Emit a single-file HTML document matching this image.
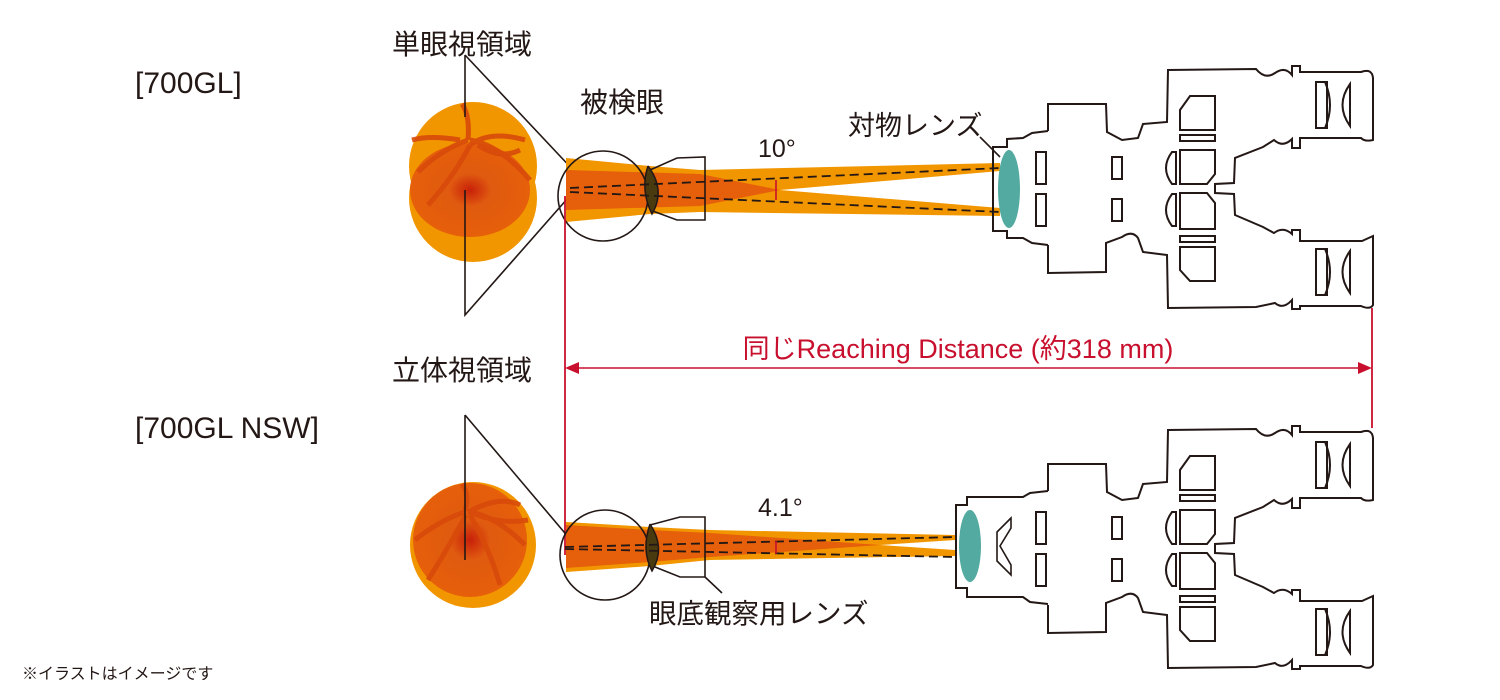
<!DOCTYPE html>
<html><head><meta charset="utf-8"><style>
body{margin:0;background:#fff}
svg{display:block}
text{font-family:"Liberation Sans","Noto Sans CJK JP",sans-serif;fill:#231815}
</style></head><body>
<svg width="1500" height="700" viewBox="0 0 1500 700" xmlns="http://www.w3.org/2000/svg">
<defs>
<radialGradient id="rg" cx="0.5" cy="0.5" r="0.5">
<stop offset="0" stop-color="#c8200a"/><stop offset="0.35" stop-color="#e05a10"/><stop offset="1" stop-color="#e65f0a"/>
</radialGradient>
<g id="body" fill="none" stroke="#231815" stroke-width="2">
<path d="M1048,131 L1048,104 L1106,104 L1107,132 L1122,140 L1138,138 L1143,124 L1167,122 L1168,70 L1256,69 Q1265,80 1275,73 Q1285,66 1292,75 L1292,66 L1300,66 L1300,72 L1361,72 Q1372,68 1373,78 L1373,140 Q1365,142 1361,138 L1300,138 L1300,148 L1292,148 L1292,139 Q1283,148 1274,140 L1263,147 L1235,158 L1234,183 L1215,184 L1215,193 L1234,194 L1235,215 L1263,227 L1274,233 Q1283,226 1292,234 L1292,230 L1300,230 L1300,241 L1362,241 L1373,236 L1373,305 Q1370,310 1361,306 L1300,306 L1300,309 L1292,309 L1292,300 Q1283,310 1275,303 L1256,307 L1168,308 L1167,255 L1143,252 L1138,238 Q1132,230 1122,237 L1106,243 L1106,272 L1048,273 L1048,245"/>
<path d="M1180,110 L1190,96 L1215,96 L1215,130 L1180,130 Z"/><rect x="1180" y="135" width="35" height="6"/>
<path d="M1180,150 L1215,150 L1215,174 L1207,184 L1180,184 Z"/><path d="M1180,193 L1207,193 L1215,203 L1215,229 L1180,229 Z"/>
<rect x="1180" y="236" width="35" height="6"/><path d="M1180,247 L1215,247 L1215,281 L1190,281 L1180,270 Z"/>
<rect x="1316" y="82" width="11" height="46"/><path d="M1325,82 Q1335,105 1325,128"/><path d="M1350,84 Q1335,105 1350,126 Z"/>
<rect x="1316" y="249" width="11" height="46"/><path d="M1325,249 Q1335,272 1325,295"/><path d="M1350,251 Q1335,272 1350,293 Z"/>
<rect x="1036" y="152" width="10" height="32"/><rect x="1036" y="194" width="10" height="32"/>
<rect x="1112" y="157" width="10" height="22"/><rect x="1112" y="199" width="10" height="22"/>
<path d="M1172,152 Q1160,168 1172,184 L1176,184 L1176,152 Z"/><path d="M1172,194 Q1160,210 1172,226 L1176,226 L1176,194 Z"/>
</g>
</defs>

<!-- TOP -->
<text x="135" y="93" font-size="30">[700GL]</text>
<text x="392" y="54" font-size="28">単眼視領域</text>
<text x="580" y="112" font-size="28">被検眼</text>
<text x="758" y="157" font-size="25">10°</text>
<text x="848" y="135" font-size="27">対物レンズ</text>

<circle cx="473" cy="198" r="64" fill="#f29600"/>
<circle cx="473" cy="166" r="64" fill="#f29600"/>
<ellipse cx="470" cy="190" rx="60" ry="47" fill="url(#rg)"/>
<g stroke="#d84a0a" stroke-width="5" fill="none" opacity="0.9">
<path d="M468,140 Q470,115 462,104"/><path d="M468,140 Q440,150 418,172"/><path d="M470,140 Q500,145 530,180"/><path d="M470,145 Q455,175 428,205"/><path d="M478,145 Q500,160 520,150"/><path d="M470,145 Q490,130 525,140"/><path d="M460,140 Q430,135 412,140"/>
</g>
<path d="M465,55 L465,117 M465,190 L465,315 L575,190 M465,55 L575,172" stroke="#231815" stroke-width="1.6" fill="none"/>

<polygon points="566,158 650,166 700,170 1000,163 1000,171 780,190 1000,208 1000,216 700,212 650,214 566,222" fill="#f29600"/>
<polygon points="566,170 700,174 780,190 700,206 566,210" fill="#e65f0a"/>
<circle cx="603" cy="196" r="45" fill="none" stroke="#231815" stroke-width="1.6"/>
<path d="M650,170 L677,158 L705,157 L705,220 L677,220 L650,210" fill="none" stroke="#231815" stroke-width="1.6"/>
<path d="M648,166 Q640,190 652,214 Q666,190 648,166" fill="#4a3a10" stroke="#231815" stroke-width="1.5"/>
<path d="M570,188 L1000,168 M570,192 L1000,212" stroke="#231815" stroke-width="1.8" stroke-dasharray="9,5"/>
<path d="M776,180 L776,200" stroke="#c8102e" stroke-width="1.6"/>
<path d="M980,137 L1000,157" stroke="#231815" stroke-width="1.6"/>
<path d="M1048,131 L1032,133 L1023,138 L1007,139 L1007,147 L993,147 L993,231 L1007,231 L1007,238 L1023,238 L1032,243 L1048,245" fill="none" stroke="#231815" stroke-width="2"/>
<ellipse cx="1009" cy="189" rx="11" ry="39" fill="#52aaa0"/>
<use href="#body"/>

<!-- distance -->
<path d="M565,196 L565,555 M1372,308 L1372,428" stroke="#c8102e" stroke-width="1.8"/>
<path d="M575,368 L1362,368" stroke="#c8102e" stroke-width="1.5"/>
<polygon points="565,368 579,362 579,374" fill="#c8102e"/>
<polygon points="1372,368 1358,362 1358,374" fill="#c8102e"/>
<text x="958" y="358" font-size="27" text-anchor="middle" style="fill:#c8102e">同じReaching Distance (約318 mm)</text>

<!-- BOTTOM -->
<text x="392" y="380" font-size="28">立体視領域</text>
<text x="135" y="438" font-size="30">[700GL NSW]</text>
<text x="758" y="516" font-size="25">4.1°</text>
<text x="649" y="623" font-size="27.5">眼底観察用レンズ</text>
<text x="22" y="679" font-size="16">※イラストはイメージです</text>

<circle cx="473" cy="545" r="63" fill="#f29600"/>
<circle cx="470" cy="540" r="57" fill="url(#rg)"/>
<g stroke="#d84a0a" stroke-width="5" fill="none" opacity="0.9">
<path d="M465,510 Q470,495 462,484"/><path d="M465,512 Q440,520 415,540"/><path d="M468,512 Q495,515 525,545"/><path d="M466,515 Q450,545 428,580"/><path d="M470,512 Q500,525 528,520"/><path d="M468,512 Q500,495 520,505"/><path d="M470,515 Q490,550 500,585"/>
</g>
<path d="M465,415 L465,560 M465,415 L575,545" stroke="#231815" stroke-width="1.6" fill="none"/>

<polygon points="566,522 650,527 710,530 955,535 955,540 880,545 955,550 955,556 710,560 650,566 566,572" fill="#f29600"/>
<polygon points="566,525 650,530 710,533 880,545 710,557 650,562 566,568" fill="#e65f0a"/>
<circle cx="605" cy="555" r="45" fill="none" stroke="#231815" stroke-width="1.6"/>
<path d="M650,525 L680,517 L705,517 L705,577 L680,577 L650,565 M705,577 L722,593" fill="none" stroke="#231815" stroke-width="1.6"/>
<path d="M650,524 Q641,550 652,571 Q666,548 650,524" fill="#4a3a10" stroke="#231815" stroke-width="1.5"/>
<path d="M565,547 L955,537 M565,549 L955,557" stroke="#231815" stroke-width="1.8" stroke-dasharray="9,5"/>
<path d="M776,541 L776,554" stroke="#c8102e" stroke-width="1.6"/>
<path d="M1048,491 L1030,493 L1023,497 L967,497 L967,505 L956,505 L956,588 L967,588 L967,597 L1023,597 L1030,602 L1048,604" fill="none" stroke="#231815" stroke-width="2"/>
<ellipse cx="970" cy="546" rx="11" ry="36" fill="#52aaa0"/>
<path d="M1011,518 L997,532 L997,561 L1011,575 L1011,565 L1000,546 L1011,528 Z" fill="none" stroke="#231815" stroke-width="1.6"/>
<use href="#body" transform="translate(0,360)"/>
</svg>
</body></html>
